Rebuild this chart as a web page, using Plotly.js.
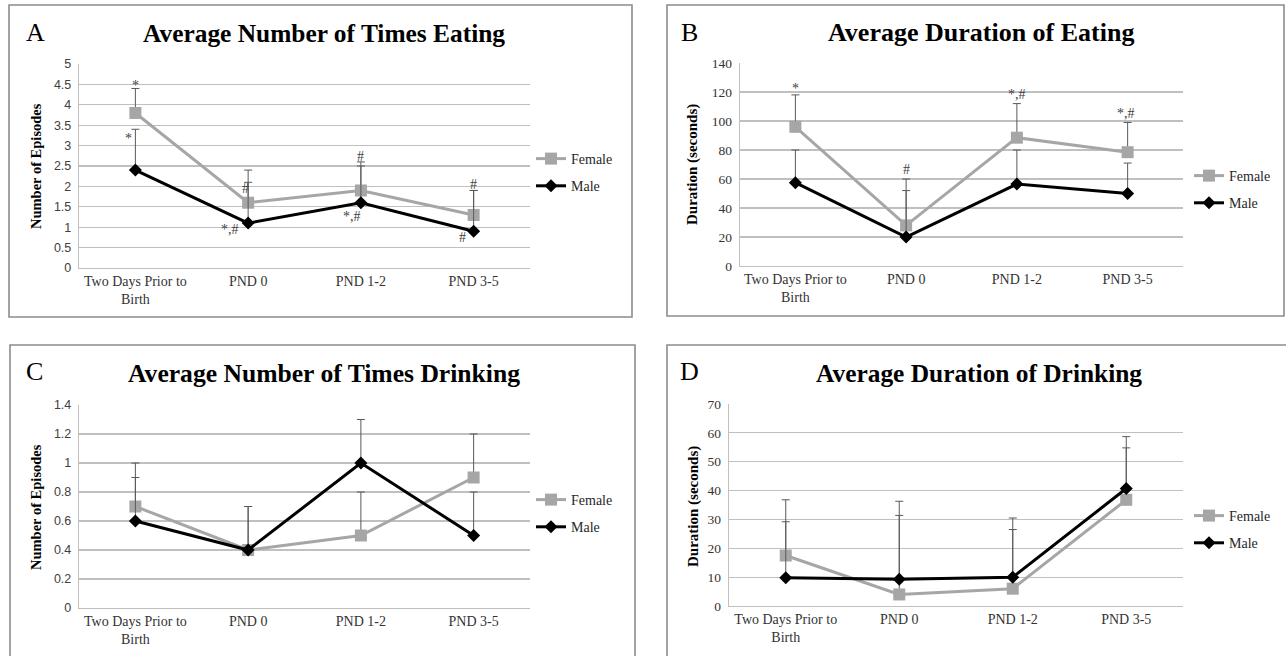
<!DOCTYPE html>
<html>
<head>
<meta charset="utf-8">
<script src="https://cdn.plot.ly/plotly-3.0.1.min.js"></script>
<style>
  html, body { margin: 0; padding: 0; background: #ffffff; }
  #chart { width: 1286px; height: 656px; }
</style>
</head>
<body>
<div id="chart"></div>
<script>
// Time points shared by all four panels
const categories = ['Two Days Prior to<br>Birth', 'PND 0', 'PND 1-2', 'PND 3-5'];
const seriesNames = ['Female', 'Male'];

// A: average number of eating episodes (mean, +SEM)
const eatCountFemale = [3.8, 1.6, 1.9, 1.3];
const eatCountFemaleErr = [0.6, 0.8, 0.7, 0.6];
const eatCountMale = [2.4, 1.1, 1.6, 0.9];
const eatCountMaleErr = [1.0, 1.0, 0.9, 1.0];

// B: average duration of eating, seconds
const eatDurFemale = [96, 28, 88.5, 78.5];
const eatDurFemaleErr = [22, 32, 23.5, 20.5];
const eatDurMale = [57.5, 20, 56.5, 50];
const eatDurMaleErr = [22.5, 32, 23.5, 21];

// C: average number of drinking episodes
const drinkCountFemale = [0.7, 0.4, 0.5, 0.9];
const drinkCountFemaleErr = [0.3, 0.3, 0.3, 0.3];
const drinkCountMale = [0.6, 0.4, 1.0, 0.5];
const drinkCountMaleErr = [0.3, 0.3, 0.3, 0.3];

// D: average duration of drinking, seconds
const drinkDurFemale = [17.5, 4, 6, 36.8];
const drinkDurFemaleErr = [19.3, 32.3, 20.5, 18];
const drinkDurMale = [9.8, 9.3, 10, 40.7];
const drinkDurMaleErr = [19.4, 22.1, 20.5, 18];

// Significance marks (* vs. other sex, # vs. prior to birth)
const eatCountFemaleSig = ['*', '#', '#', '#'];
const eatCountMaleSig = ['*', '*,#', '*,#', '#'];
const eatDurFemaleSig = ['*', '#', '*,#', '*,#'];

const W = 1286, H = 656;
const px = v => v / W;
const py = v => 1 - v / H;

const FEMALE_COLOR = '#a6a6a6';
const MALE_COLOR = '#000000';
const ERR_COLOR = '#595959';
const GRID = '#c0c0c0';
const SERIF = 'Liberation Serif, Times New Roman, serif';
const SANS = 'Liberation Sans, Arial, sans-serif';

function pair(xa, ya, leg, f, fe, m, me) {
  const zeros = f.map(() => 0);
  return [
    {
      x: categories, y: f, xaxis: xa, yaxis: ya, name: seriesNames[0],
      legend: leg, legendgroup: leg + 'f', type: 'scatter', mode: 'lines+markers',
      line: { color: FEMALE_COLOR, width: 3 },
      marker: { symbol: 'square', size: 12, color: FEMALE_COLOR },
      error_y: { type: 'data', symmetric: false, array: fe, arrayminus: zeros,
                 color: ERR_COLOR, thickness: 1, width: 4 },
      hoverinfo: 'skip'
    },
    {
      x: categories, y: m, xaxis: xa, yaxis: ya, name: seriesNames[1],
      legend: leg, legendgroup: leg + 'm', type: 'scatter', mode: 'lines+markers',
      line: { color: MALE_COLOR, width: 3 },
      marker: { symbol: 'diamond', size: 10, color: MALE_COLOR },
      error_y: { type: 'data', symmetric: false, array: me, arrayminus: zeros,
                 color: ERR_COLOR, thickness: 1, width: 4 },
      hoverinfo: 'skip'
    }
  ];
}

const data = [].concat(
  pair('x', 'y', 'legend', eatCountFemale, eatCountFemaleErr, eatCountMale, eatCountMaleErr),
  pair('x2', 'y2', 'legend2', eatDurFemale, eatDurFemaleErr, eatDurMale, eatDurMaleErr),
  pair('x3', 'y3', 'legend3', drinkCountFemale, drinkCountFemaleErr, drinkCountMale, drinkCountMaleErr),
  pair('x4', 'y4', 'legend4', drinkDurFemale, drinkDurFemaleErr, drinkDurMale, drinkDurMaleErr)
);

function xAxis(domain, anchor) {
  return {
    domain: domain, anchor: anchor, type: 'category', range: [-0.5, 3.5],
    showgrid: false, showline: true, linecolor: GRID, linewidth: 1,
    ticks: '', tickfont: { family: SERIF, size: 14, color: '#333333' },
    fixedrange: true
  };
}
function yAxis(domain, anchor, range, dtick, font) {
  return {
    domain: domain, anchor: anchor, range: range, dtick: dtick, tick0: 0,
    showgrid: true, gridcolor: GRID, gridwidth: 1.2, zeroline: false,
    showline: true, linecolor: GRID, linewidth: 1.2, ticks: '',
    ticklabelstandoff: 4, tickfont: font, fixedrange: true
  };
}
const sansTick = { family: SANS, size: 12.5, color: '#404040' };
const serifTick = { family: SERIF, size: 13.5, color: '#333333' };

function legendAt(x, y) {
  return {
    x: px(x), y: py(y), xanchor: 'left', yanchor: 'top',
    bgcolor: 'rgba(0,0,0,0)', borderwidth: 0, tracegroupgap: 6,
    traceorder: 'grouped', itemwidth: 30,
    font: { family: SERIF, size: 14, color: '#262626' }
  };
}

const annotations = [];
function label(text, x, y, size, bold, angle) {
  annotations.push({
    text: bold ? '<b>' + text + '</b>' : text, x: px(x), y: py(y),
    xref: 'paper', yref: 'paper', xanchor: 'center', yanchor: 'middle',
    showarrow: false, textangle: angle || 0,
    font: { family: SERIF, size: size, color: '#000000' }
  });
}
// Panel letters, titles and y-axis titles
label('A', 35, 33, 26, false);
label('Average Number of Times Eating', 324, 33, 25.4, true);
label('B', 689, 32, 26, false);
label('Average Duration of Eating', 981, 32, 26, true);
label('C', 34, 372, 26, false);
label('Average Number of Times Drinking', 324, 373, 25.6, true);
label('D', 689, 372, 26, false);
label('Average Duration of Drinking', 979, 373, 25.4, true);
label('Number of Episodes', 36, 166, 14.5, true, -90);
label('Duration (seconds)', 693, 165, 15, true, -90);
label('Number of Episodes', 36, 507, 14.5, true, -90);
label('Duration (seconds)', 693, 507, 15, true, -90);

// Significance marks, placed relative to each point or its error-bar top
function sig(xa, ya, i, value, text, dx, dy) {
  annotations.push({
    text: text, x: categories[i], y: value, xref: xa, yref: ya,
    xshift: dx, yshift: dy, showarrow: false, xanchor: 'center', yanchor: 'middle',
    font: { family: SERIF, size: 14, color: '#404040' }
  });
}
const errTop = (v, e, i) => v[i] + e[i];
sig('x', 'y', 0, errTop(eatCountFemale, eatCountFemaleErr, 0), eatCountFemaleSig[0], 0, 3);
sig('x', 'y', 0, errTop(eatCountMale, eatCountMaleErr, 0), eatCountMaleSig[0], -7, -9);
sig('x', 'y', 1, eatCountFemale[1], eatCountFemaleSig[1], -3, 14);
sig('x', 'y', 1, eatCountMale[1], eatCountMaleSig[1], -18, -6);
sig('x', 'y', 2, errTop(eatCountFemale, eatCountFemaleErr, 2), eatCountFemaleSig[2], 0, 5);
sig('x', 'y', 2, eatCountMale[2], eatCountMaleSig[2], -9, -14);
sig('x', 'y', 3, errTop(eatCountFemale, eatCountFemaleErr, 3), eatCountFemaleSig[3], 0, 6);
sig('x', 'y', 3, eatCountMale[3], eatCountMaleSig[3], -11, -6);
sig('x2', 'y2', 0, errTop(eatDurFemale, eatDurFemaleErr, 0), eatDurFemaleSig[0], 0, 6);
sig('x2', 'y2', 1, errTop(eatDurFemale, eatDurFemaleErr, 1), eatDurFemaleSig[1], 0, 10);
sig('x2', 'y2', 2, errTop(eatDurFemale, eatDurFemaleErr, 2), eatDurFemaleSig[2], 0, 9);
sig('x2', 'y2', 3, errTop(eatDurFemale, eatDurFemaleErr, 3), eatDurFemaleSig[3], -2, 9);

// Panel frames
function frame(x0, y0, x1, y1) {
  return {
    type: 'rect', xref: 'paper', yref: 'paper',
    x0: px(x0), x1: px(x1), y0: py(y1), y1: py(y0),
    line: { color: '#8c8c8c', width: 1.6 }, fillcolor: 'rgba(0,0,0,0)', layer: 'below'
  };
}

const layout = {
  width: W, height: H,
  margin: { l: 0, r: 0, t: 0, b: 0 },
  paper_bgcolor: '#ffffff', plot_bgcolor: 'rgba(0,0,0,0)',
  font: { family: SERIF, color: '#333333' },
  xaxis: xAxis([px(79), px(530)], 'y'),
  yaxis: yAxis([py(268), py(64)], 'x', [0, 5], 0.5, sansTick),
  xaxis2: xAxis([px(740), px(1183)], 'y2'),
  yaxis2: yAxis([py(266), py(63)], 'x2', [0, 140], 20, serifTick),
  xaxis3: xAxis([px(79), px(530)], 'y3'),
  yaxis3: yAxis([py(608), py(405)], 'x3', [0, 1.4], 0.2, sansTick),
  xaxis4: xAxis([px(729), px(1183)], 'y4'),
  yaxis4: yAxis([py(606), py(404)], 'x4', [0, 70], 10, serifTick),
  legend: legendAt(531, 143),
  legend2: legendAt(1189, 160),
  legend3: legendAt(531, 484),
  legend4: legendAt(1189, 500),
  annotations: annotations,
  shapes: [
    frame(9, 5, 632, 317),
    frame(667, 5, 1284, 316),
    frame(10, 345, 635, 670),
    frame(667, 345, 1300, 670)
  ],
  showlegend: true
};

Plotly.newPlot('chart', data, layout, { displayModeBar: false, staticPlot: true });
</script>
</body>
</html>
